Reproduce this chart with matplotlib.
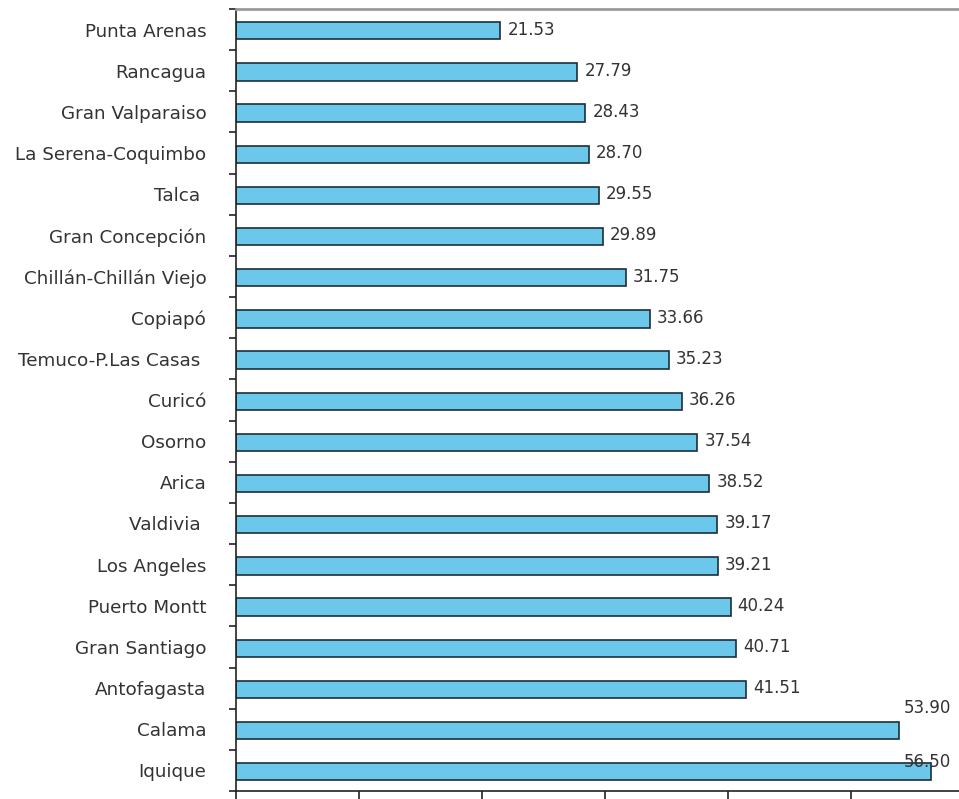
import numpy as np
import matplotlib
matplotlib.use("Agg")
import matplotlib.pyplot as plt
from matplotlib.ticker import FixedLocator

plt.rcParams['font.family'] = ['DejaVu Sans']

cities = ["Punta Arenas", "Rancagua", "Gran Valparaiso", "La Serena-Coquimbo",
          "Talca ", "Gran Concepción", "Chillán-Chillán Viejo", "Copiapó",
          "Temuco-P.Las Casas ", "Curicó", "Osorno", "Arica", "Valdivia ",
          "Los Angeles", "Puerto Montt", "Gran Santiago", "Antofagasta",
          "Calama", "Iquique"]
values = [21.53, 27.79, 28.43, 28.70, 29.55, 29.89, 31.75, 33.66, 35.23,
          36.26, 37.54, 38.52, 39.17, 39.21, 40.24, 40.71, 41.51, 53.90, 56.50]
xticks = [0, 10, 20, 30, 40, 50]

fig = plt.figure(figsize=(9.59, 7.99), dpi=100)
ax = fig.add_axes([235.5 / 959, 8 / 799, 1 - 235.5 / 959, 782 / 799])

y = np.arange(len(cities))
ax.barh(y + 0.03, values, height=0.42, color="#6cc8ea", edgecolor="#1c2e3a",
        linewidth=1.2)

ax.set_ylim(len(cities) - 0.5, -0.5)
ax.set_xlim(0, 58.8)

ax.set_yticks(y)
ax.set_yticklabels(cities, fontsize=13.2, color="#333333")
ax.yaxis.set_minor_locator(FixedLocator(np.arange(len(cities) + 1) - 0.5))
ax.tick_params(axis="y", which="major", length=0, pad=21)
ax.tick_params(axis="y", which="minor", length=5, width=1.2, color="#222222")

ax.set_xticks(xticks)
ax.set_xticklabels([])
ax.tick_params(axis="x", which="major", length=6, width=1.2, color="#222222")

for side in ["left", "bottom"]:
    ax.spines[side].set_color("#222222")
    ax.spines[side].set_linewidth(1.2)
ax.spines["right"].set_visible(False)
ax.spines["top"].set_color("#9a9a9a")
ax.spines["top"].set_linewidth(2)

# labels that would hit the right edge go above the bar
above = {"Calama": (0, 15), "Iquique": (0, 6)}
for yi, v, c in zip(y, values, cities):
    if c in above:
        dx, dy = above[c]
        ax.annotate(f"{v:.2f}", xy=(54.3, yi), xytext=(dx, dy),
                    textcoords="offset points", va="center", ha="left",
                    fontsize=12, color="#333333")
    else:
        ax.annotate(f"{v:.2f}", xy=(v, yi), xytext=(5, 0),
                    textcoords="offset points", va="center", ha="left",
                    fontsize=12, color="#333333")

fig.savefig("out.png", dpi=100)
